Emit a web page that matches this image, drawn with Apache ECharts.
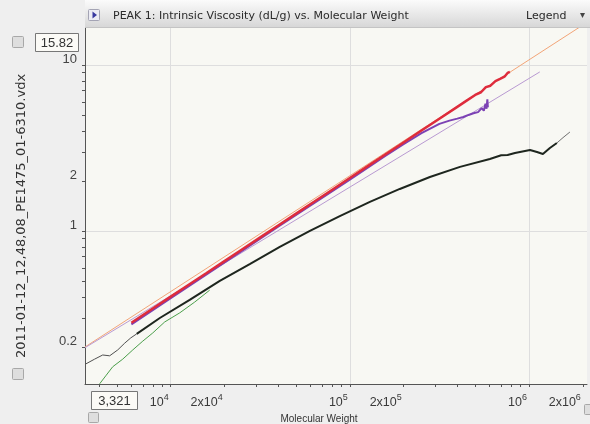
<!DOCTYPE html>
<html><head><meta charset="utf-8">
<script src="https://cdn.jsdelivr.net/npm/echarts@6/dist/echarts.min.js"></script>
<style>html,body{margin:0;padding:0;background:#efefef}#c{width:590px;height:424px}</style>
</head><body><div id="c"></div><script>
// ---- data (Molecular Weight, Intrinsic Viscosity dL/g) ----
const orangeFitM = [3321, 2000000];
const orangeFitIV = [0.200, 17.4];
const purpleFitM = [3321, 1150000];
const purpleFitIV = [0.198, 9.08];
const redM = [6030, 7940, 10000, 12600, 15850, 19950, 25100, 31600, 39800, 50100, 63100, 79400, 100000, 125900, 158500, 199500, 251200, 316200, 398100, 446700, 501200, 540000, 575000, 610000, 650000, 690000, 730000, 760000, 783000];
const redIV = [0.280, 0.341, 0.402, 0.474, 0.558, 0.658, 0.776, 0.915, 1.079, 1.272, 1.499, 1.767, 2.084, 2.457, 2.896, 3.415, 4.026, 4.746, 5.595, 6.075, 6.597, 6.85, 7.35, 7.50, 8.00, 8.25, 8.50, 8.95, 9.08];
const purpleM = [6030, 10000, 15850, 25100, 39800, 63100, 100000, 158500, 199500, 251200, 316200, 360000, 398100, 430000, 460000, 490000, 520000, 545000, 560000, 572000, 580000, 586000, 590000];
const purpleIV = [0.274, 0.394, 0.548, 0.762, 1.06, 1.47, 2.04, 2.84, 3.33, 3.88, 4.42, 4.62, 4.75, 4.86, 5.00, 5.12, 5.20, 5.50, 5.30, 5.85, 5.45, 6.20, 5.55];
const blackM = [6457, 8690, 12760, 18790, 27610, 40640, 59840, 87900, 129400, 190100, 279900, 412100, 605300, 700000, 760000, 835600, 1014000, 1109000, 1197000, 1309000, 1432000];
const blackIV = [0.240, 0.299, 0.384, 0.500, 0.632, 0.802, 1.000, 1.230, 1.496, 1.791, 2.113, 2.432, 2.716, 2.86, 2.87, 2.951, 3.076, 2.992, 2.911, 3.162, 3.388];
const blackLowM = [3350, 3758, 4169, 4560, 5058, 5535, 5984, 6457];
const blackLowIV = [0.158, 0.169, 0.179, 0.177, 0.192, 0.211, 0.227, 0.240];
const blackHighM = [1432000, 1550000, 1694000];
const blackHighIV = [3.388, 3.65, 3.945];
const greenM = [4009, 4335, 4742, 5395, 6138, 6982, 7935, 9252, 11220, 13610, 16500];
const greenIV = [0.120, 0.134, 0.152, 0.169, 0.192, 0.217, 0.243, 0.283, 0.321, 0.373, 0.44];
// ---- axes ----
const xMin = 3321, xMax = 2110000;
const yMin = 0.1197, yMax = 16.7;
const xTickVals = [4000,5000,6000,7000,8000,9000,10000,20000,30000,40000,50000,60000,70000,80000,90000,100000,200000,300000,400000,500000,600000,700000,800000,900000,1000000,2000000];
const xLabelVals = [10000, 20000, 100000, 200000, 1000000, 2000000];
const yTickVals = [0.2,0.3,0.4,0.5,0.6,0.7,0.8,0.9,1,2,3,4,5,6,7,8,9,10];
const yLabelVals = [0.2, 1, 2, 10];
const yLabelText = ['0.2', '1', '2', '10'];

const zip = (a, b) => a.map((v, i) => [v, b[i]]);
const chart = echarts.init(document.getElementById('c'));
const FONT = 'Liberation Sans, Arial, sans-serif';
const DV = 'DejaVu Sans, Verdana, sans-serif';
function xFmt(v) {
  const n = Math.floor(Math.log10(v) + 1e-9);
  const m = Math.round(v / Math.pow(10, n));
  return (m === 1 ? '{a|10}' : '{a|' + m + 'x10}') + '{b|' + n + '}';
}
const lineS = (data, color, width, z) => ({
  type: 'line', data, showSymbol: false, symbol: 'none', smooth: false, z,
  lineStyle: { color, width }, xAxisIndex: 0, yAxisIndex: 0, animation: false
});
chart.setOption({
  animation: false,
  backgroundColor: '#efefef',
  grid: { left: 85, top: 28, right: 3, bottom: 40, containLabel: false, outerBoundsMode: 'none',
          show: true, backgroundColor: '#f8f8f3', borderWidth: 0 },
  xAxis: [
    { type: 'log', min: xMin, max: xMax, position: 'bottom',
      axisLine: { show: true, onZero: false, lineStyle: { color: '#555', width: 1 } },
      axisTick: { show: false }, axisLabel: { show: false },
      splitLine: { show: true, showMinLine: false, showMaxLine: false, lineStyle: { color: '#dedede', width: 1 } } },
    { type: 'log', min: xMin, max: xMax, position: 'bottom',
      axisLine: { show: false },
      axisTick: { show: true, length: 3, customValues: xTickVals, lineStyle: { color: '#555' } },
      axisLabel: { customValues: xLabelVals, formatter: xFmt, align: 'right', margin: 9,
        rich: { a: { fontSize: 12.5, lineHeight: 13, padding: [7, 0, 0, 0], color: '#3a3a3a', fontFamily: FONT },
                b: { fontSize: 9, lineHeight: 9, verticalAlign: 'top', padding: [0, 2, 0, 0], color: '#3a3a3a', fontFamily: FONT } } },
      splitLine: { show: false },
      name: 'Molecular Weight', nameLocation: 'middle', nameGap: 30,
      nameTextStyle: { fontSize: 10, color: '#333', fontFamily: FONT, padding: [0, 34, 0, 0] } }
  ],
  yAxis: [
    { type: 'log', min: yMin, max: yMax, position: 'left',
      axisLine: { show: true, onZero: false, lineStyle: { color: '#555', width: 1 } },
      axisTick: { show: false }, axisLabel: { show: false },
      splitLine: { show: true, showMinLine: false, showMaxLine: false, lineStyle: { color: '#dedede', width: 1 } } },
    { type: 'log', min: yMin, max: yMax, position: 'left',
      axisLine: { show: false },
      axisTick: { show: true, length: 3, customValues: yTickVals, lineStyle: { color: '#555' } },
      axisLabel: { customValues: yLabelVals, formatter: v => yLabelText[yLabelVals.indexOf(+v)] ?? String(v),
        margin: 8, verticalAlign: 'bottom', lineHeight: 12, fontSize: 13, color: '#444', fontFamily: FONT },
      splitLine: { show: false },
      name: '2011-01-12_12,48,08_PE1475_01-6310.vdx', nameLocation: 'middle', nameRotate: 90, nameGap: 57,
      nameTextStyle: { fontSize: 13, color: '#333', fontFamily: DV, padding: [0, 20, 0, 0] } }
  ],
  series: [
    lineS(zip(orangeFitM, orangeFitIV), '#f2a477', 1, 2),
    lineS(zip(purpleFitM, purpleFitIV), '#b99ad2', 1, 2),
    lineS(zip(greenM, greenIV), '#4a9e4a', 1, 3),
    lineS(zip(blackLowM, blackLowIV), '#505050', 1, 3),
    lineS(zip(blackHighM, blackHighIV), '#707070', 1, 3),
    lineS(zip(blackM, blackIV), '#1e261e', 2, 4),
    lineS(zip(purpleM, purpleIV), '#7c42b4', 2, 5),
    lineS(zip(redM, redIV), '#de2c3c', 2.5, 6)
  ],
  graphic: [
    { type: 'rect', shape: { x: 85, y: 0, width: 505, height: 28 }, z: 10,
      style: { fill: new echarts.graphic.LinearGradient(0, 0, 0, 1, [{ offset: 0, color: '#fbfbfb' }, { offset: 1, color: '#d6d6d6' }]) } },
    { type: 'line', shape: { x1: 85, y1: 27.5, x2: 590, y2: 27.5 }, style: { stroke: '#c4c4c4', lineWidth: 1 }, z: 11 },
    { type: 'rect', shape: { x: 88.5, y: 9.5, width: 11, height: 11, r: 1 }, style: { fill: '#ececf4', stroke: '#a4a4b4' }, z: 11 },
    { type: 'polygon', shape: { points: [[92.5, 11.5], [92.5, 18.5], [97, 15]] }, style: { fill: '#3838a0' }, z: 12 },
    { type: 'text', x: 113, y: 16, z: 11, style: { text: 'PEAK 1: Intrinsic Viscosity (dL/g) vs. Molecular Weight', fill: '#2a2a2a', font: '11px ' + DV, verticalAlign: 'middle' } },
    { type: 'text', x: 526, y: 16, z: 11, style: { text: 'Legend', fill: '#2a2a2a', font: '11px ' + DV, verticalAlign: 'middle' } },
    { type: 'text', x: 580, y: 15, z: 11, style: { text: '▾', fill: '#444', font: '10px DejaVu Sans', verticalAlign: 'middle' } },
    { type: 'rect', shape: { x: 12.5, y: 36.5, width: 11, height: 11, r: 1 }, style: { fill: '#dedede', stroke: '#a8a8a8' }, z: 11 },
    { type: 'rect', shape: { x: 12.5, y: 368.5, width: 11, height: 11, r: 1 }, style: { fill: '#dedede', stroke: '#a8a8a8' }, z: 11 },
    { type: 'rect', shape: { x: 35.5, y: 33.5, width: 43, height: 18 }, style: { fill: '#fbfaf6', stroke: '#777' }, z: 11 },
    { type: 'text', x: 57, y: 43, z: 12, style: { text: '15.82', fill: '#333', font: '13px ' + FONT, align: 'center', verticalAlign: 'middle' } },
    { type: 'rect', shape: { x: 88.5, y: 412.5, width: 10, height: 10, r: 1 }, style: { fill: '#dedede', stroke: '#a8a8a8' }, z: 11 },
    { type: 'rect', shape: { x: 91.5, y: 391.5, width: 46, height: 18 }, style: { fill: '#fbfaf6', stroke: '#777' }, z: 12 },
    { type: 'text', x: 114.5, y: 401, z: 13, style: { text: '3,321', fill: '#333', font: '13px ' + FONT, align: 'center', verticalAlign: 'middle' } },
    { type: 'rect', shape: { x: 584.5, y: 404.5, width: 10, height: 10, r: 1 }, style: { fill: '#dedede', stroke: '#a8a8a8' }, z: 11 }
  ]
});
</script></body></html>
